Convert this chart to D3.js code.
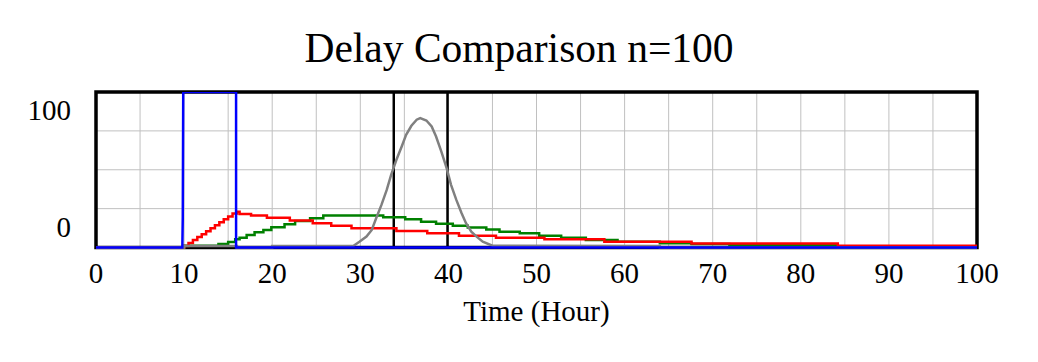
<!DOCTYPE html>
<html><head><meta charset="utf-8">
<script src="https://cdn.jsdelivr.net/npm/d3@7"></script>
<style>html,body{margin:0;padding:0;background:#fff;}svg{display:block;}</style>
</head><body>
<script>
// ---- data ----
const title = "Delay Comparison n=100";
const xLabel = "Time (Hour)";
const xTicks = [0,10,20,30,40,50,60,70,80,90,100];
const xGrid = [0,5,10,15,20,25,30,35,40,45,50,55,60,65,70,75,80,85,90,95,100];
const yGrid = [25,50,75];
const yTickLabels = [{v:100,t:"100"},{v:0,t:"0"}];

// blue: pulse input
const blueT = [0, 9.8, 9.85, 9.9, 15.9, 15.9, 100];
const blueV = [0, 0, 20, 100, 100, 0, 0];
// black: pipeline delay (off scale between)
const blackT = [0, 33.8, 33.8, 39.9, 39.9, 100];
const blackV = [0, 0, 1000, 1000, 0, 0];
// red: first-order style (step after)
const redT = [0,10,10.5,11,11.5,12,12.5,13,13.5,14,14.5,15,15.5,16,16.3,17.6,19.4,22,24.6,26.7,29,34.1,37.6,41.2,45.4,50.9,57.7,67.6,84.2,100];
const redV = [0,1,2.9,4.8,6.7,8.6,10.5,12.4,14.3,16.2,18.1,20,21.9,23,21.6,20.5,19.2,17.3,15.6,14,12.4,10.6,9.1,7.6,6.3,5.3,3.7,2.6,1.2,1.2];
// green: third-order style (step after)
const greenT = [0,10,13.9,15,15.8,16.3,17.1,18,19,19.9,21.4,22.6,24.3,25.8,32.6,35.1,36.9,38.6,40.5,42.2,44.3,45.8,48.1,50.3,52.8,55.6,59.2,64,67.6,71.9,84.2,100];
const greenV = [0,1.2,2.3,3.5,5.3,6.3,8,9.8,11.3,13,15,17,18.8,20.5,19.5,18.2,16.6,15.3,14,12.8,11.5,10.2,9.1,7.6,6.3,4.8,3.7,2.7,2.2,1.6,0,0];
// gray: high-order delay (linear)
const grayT = [0,10,10,16,16,20,20,29.2,29.9,30.7,31.3,31.8,32.4,33,33.5,34.1,34.7,35.2,35.8,36.4,36.8,37.5,38.1,38.6,39.2,39.8,40.3,40.9,41.5,42,42.6,43.2,43.9,45,64,64,100];
const grayV = [0,0,1,1,0,0,1,1,3.7,7,11.3,18.8,27.4,37,46.7,56.4,65,72.5,78.3,82.2,83.2,81.7,77.8,71.4,61.7,51,40.3,30.6,22,15.6,10.2,7,3.7,1.2,1,0,0];

// ---- layout ----
const W = 1038, H = 362;
const L = 96, R = 977, T = 92, B = 247.5;
const font = "'Liberation Serif','Times New Roman',serif";

const svg = d3.select("body").append("svg").attr("width", W).attr("height", H);
const x = d3.scaleLinear().domain([0,100]).range([L,R]);
const y = d3.scaleLinear().domain([0,100]).range([B,T]);

svg.append("defs").append("clipPath").attr("id","clip")
  .append("rect").attr("x", L-1).attr("y", T).attr("width", R-L+2).attr("height", B-T+2);

// grid
svg.append("g").selectAll("line").data(xGrid).join("line")
  .attr("x1", d=>x(d)).attr("x2", d=>x(d)).attr("y1", T).attr("y2", B)
  .attr("stroke", "#c0c0c0").attr("stroke-width", 1);
svg.append("g").selectAll("line").data(yGrid).join("line")
  .attr("x1", L).attr("x2", R).attr("y1", d=>y(d)).attr("y2", d=>y(d))
  .attr("stroke", "#c0c0c0").attr("stroke-width", 1);

// frame
svg.append("rect").attr("x", L).attr("y", T).attr("width", R-L).attr("height", B-T)
  .attr("fill", "none").attr("stroke", "#000").attr("stroke-width", 3.5);

const g = svg.append("g").attr("clip-path", "url(#clip)");
function drawSeries(ts, vs, color, curve) {
  const pts = ts.map((t,i)=>[t, vs[i]]);
  const line = d3.line().x(d=>x(d[0])).y(d=>y(d[1])).curve(curve);
  g.append("path").attr("d", line(pts)).attr("fill","none")
    .attr("stroke", color).attr("stroke-width", 2.5).attr("stroke-linejoin","miter");
}
drawSeries(blackT, blackV, "#000", d3.curveLinear);
drawSeries(greenT, greenV, "#008000", d3.curveStepAfter);
drawSeries(redT, redV, "#ff0000", d3.curveStepAfter);
drawSeries(grayT, grayV, "#808080", d3.curveLinear);
drawSeries(blueT, blueV, "#0000ff", d3.curveLinear);

// x tick labels
svg.append("g").selectAll("text").data(xTicks).join("text")
  .attr("x", d=>x(d)).attr("y", 283).attr("text-anchor","middle")
  .attr("font-family", font).attr("font-size", 29).attr("fill","#000")
  .text(d=>d);

// y labels
svg.append("g").selectAll("text").data(yTickLabels).join("text")
  .attr("x", 71).attr("y", d=> d.v===100 ? y(d.v)+28 : y(d.v)-11)
  .attr("text-anchor","end")
  .attr("font-family", font).attr("font-size", 29).attr("fill","#000")
  .text(d=>d.t);

// axis title
svg.append("text").attr("x", (L+R)/2).attr("y", 321).attr("text-anchor","middle")
  .attr("font-family", font).attr("font-size", 29).attr("fill","#000").text(xLabel);

// title
svg.append("text").attr("x", 519).attr("y", 62).attr("text-anchor","middle")
  .attr("font-family", font).attr("font-size", 41.5).attr("fill","#000").text(title);
</script>
</body></html>
